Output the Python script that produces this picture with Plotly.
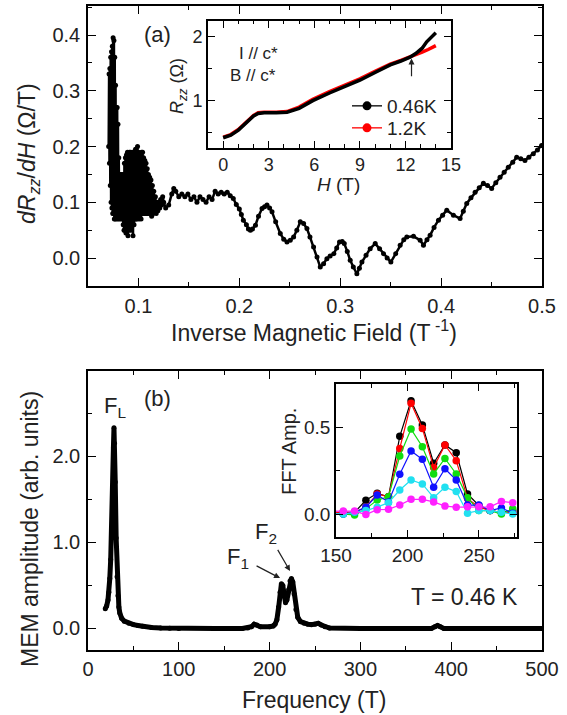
import plotly.graph_objects as go

FONT = "Liberation Sans, Arial, Helvetica, sans-serif"

# ---------------- panel (a): dRzz/dH versus inverse field ----------------
inv_field = [
    0.0705, 0.0709, 0.0713, 0.0717, 0.0721, 0.0725, 0.0729, 0.0733, 0.0737, 0.0741,
    0.0745, 0.0749, 0.0753, 0.0757, 0.0761, 0.0765, 0.0769, 0.0773, 0.0777, 0.0781,
    0.0785, 0.0789, 0.0793, 0.0797, 0.0801, 0.0805, 0.0809, 0.0813, 0.0817, 0.0821,
    0.0825, 0.0829, 0.0833, 0.0837, 0.0841, 0.0845, 0.0849, 0.0853, 0.0857, 0.0861,
    0.0866, 0.0871, 0.0876, 0.0881, 0.0886, 0.0891, 0.0896, 0.0901, 0.0906, 0.0911,
    0.0916, 0.0921, 0.0926, 0.0931, 0.0936, 0.0941, 0.0946, 0.0951, 0.0956, 0.0961,
    0.0966, 0.0971, 0.0976, 0.0981, 0.0986, 0.0991, 0.0996, 0.1001, 0.1006, 0.1011,
    0.1016, 0.1021, 0.1026, 0.1031, 0.1036, 0.1041, 0.1046, 0.1051, 0.1057, 0.1063,
    0.1069, 0.1075, 0.1081, 0.1087, 0.1093, 0.1099, 0.1105, 0.1111, 0.1117, 0.1124,
    0.1131, 0.1138, 0.1145, 0.1152, 0.1160, 0.1168, 0.1176, 0.1184, 0.1193, 0.1202,
    0.1211, 0.1220, 0.1230, 0.1240, 0.1250, 0.1270, 0.1300, 0.1330, 0.1350, 0.1370,
    0.1400, 0.1430, 0.1460, 0.1490, 0.1520, 0.1550, 0.1580, 0.1610, 0.1640, 0.1670,
    0.1700, 0.1730, 0.1760, 0.1790, 0.1820, 0.1850, 0.1880, 0.1910, 0.1940, 0.1970,
    0.2000, 0.2020, 0.2040, 0.2070, 0.2090, 0.2110, 0.2130, 0.2160, 0.2190, 0.2225,
    0.2250, 0.2274, 0.2300, 0.2324, 0.2360, 0.2406, 0.2440, 0.2472, 0.2505, 0.2538,
    0.2570, 0.2604, 0.2637, 0.2670, 0.2700, 0.2736, 0.2770, 0.2802, 0.2835, 0.2868,
    0.2900, 0.2937, 0.2965, 0.2993, 0.3020, 0.3040, 0.3070, 0.3099, 0.3130, 0.3165,
    0.3190, 0.3215, 0.3256, 0.3297, 0.3347, 0.3390, 0.3429, 0.3465, 0.3502, 0.3550,
    0.3594, 0.3630, 0.3660, 0.3726, 0.3792, 0.3825, 0.3860, 0.3891, 0.3930, 0.3974,
    0.4015, 0.4056, 0.4122, 0.4188, 0.4220, 0.4254, 0.4296, 0.4337, 0.4378, 0.4419,
    0.4460, 0.4501, 0.4542, 0.4584, 0.4625, 0.4666, 0.4710, 0.4749, 0.4790, 0.4831,
    0.4870, 0.4914, 0.4955, 0.4996,
]
dR_dH = [
    0.200, 0.330, 0.170, 0.340, 0.130, 0.360, 0.100, 0.370, 0.090, 0.380,
    0.080, 0.395, 0.080, 0.390, 0.070, 0.360, 0.070, 0.310, 0.080, 0.270,
    0.070, 0.270, 0.080, 0.240, 0.070, 0.180, 0.080, 0.150, 0.070, 0.150,
    0.080, 0.140, 0.070, 0.150, 0.080, 0.130, 0.060, 0.150, 0.050, 0.170,
    0.050, 0.180, 0.045, 0.185, 0.050, 0.190, 0.040, 0.185, 0.050, 0.190,
    0.060, 0.190, 0.050, 0.185, 0.060, 0.190, 0.040, 0.180, 0.060, 0.190,
    0.070, 0.195, 0.070, 0.190, 0.070, 0.200, 0.080, 0.190, 0.070, 0.180,
    0.080, 0.185, 0.070, 0.190, 0.080, 0.190, 0.080, 0.180, 0.080, 0.175,
    0.080, 0.170, 0.080, 0.160, 0.080, 0.150, 0.080, 0.145, 0.080, 0.140,
    0.075, 0.130, 0.080, 0.120, 0.085, 0.110, 0.080, 0.100, 0.085, 0.100,
    0.090, 0.105, 0.095, 0.110, 0.100, 0.090, 0.095, 0.115, 0.125, 0.120,
    0.110, 0.115, 0.110, 0.115, 0.105, 0.110, 0.100, 0.110, 0.105, 0.100,
    0.110, 0.105, 0.120, 0.115, 0.118, 0.115, 0.118, 0.112, 0.107, 0.096,
    0.088, 0.078, 0.068, 0.060, 0.052, 0.050, 0.052, 0.059, 0.075, 0.089,
    0.092, 0.095, 0.090, 0.083, 0.065, 0.044, 0.034, 0.029, 0.032, 0.038,
    0.050, 0.065, 0.062, 0.053, 0.038, 0.020, 0.002, -0.016, -0.010, -0.001,
    0.004, 0.008, 0.018, 0.029, 0.030, 0.026, 0.012, -0.004, -0.016, -0.028,
    -0.018, -0.007, 0.005, 0.017, 0.026, 0.017, 0.008, 0.000, -0.007, 0.008,
    0.023, 0.033, 0.038, 0.039, 0.032, 0.023, 0.033, 0.041, 0.055, 0.068,
    0.077, 0.086, 0.077, 0.071, 0.084, 0.098, 0.108, 0.118, 0.126, 0.134,
    0.130, 0.125, 0.135, 0.145, 0.154, 0.163, 0.172, 0.181, 0.178, 0.175,
    0.181, 0.187, 0.194, 0.202,
]

# inset (a): Rzz(H) at two temperatures
field_046K = [0, 0.5, 1.0, 1.5, 2.0, 2.3, 2.7, 3.5, 4.2, 5.0, 5.9, 7.0, 8.0, 9.0,
              10.0, 11.0, 11.7, 12.3, 12.7, 13.1, 13.4, 13.7, 14.0]
rzz_046K = [0.42, 0.46, 0.54, 0.65, 0.76, 0.80, 0.81, 0.81, 0.82, 0.88, 1.00, 1.12,
            1.22, 1.32, 1.44, 1.56, 1.62, 1.68, 1.74, 1.82, 1.92, 2.00, 2.06]
field_12K = [0, 0.5, 1.0, 1.5, 2.0, 2.3, 2.7, 3.5, 4.2, 5.0, 5.9, 7.0, 8.0, 9.0,
             10.0, 11.0, 11.7, 12.3, 12.7, 13.1, 13.5, 14.0]
rzz_12K = [0.43, 0.47, 0.55, 0.66, 0.77, 0.81, 0.82, 0.82, 0.83, 0.90, 1.02, 1.14,
           1.24, 1.34, 1.46, 1.57, 1.63, 1.68, 1.72, 1.76, 1.80, 1.86]

# ---------------- panel (b): MEM spectrum ----------------
freq = [19, 20.5, 22, 23, 24, 25, 26, 27, 28, 28.6, 29.2, 30, 31, 32, 33, 34, 35, 37,
        40, 45, 50, 55, 60, 70, 80, 90, 100, 140, 170, 176, 180, 183, 186, 190, 200,
        204, 206, 208, 210, 211.5, 213, 214.5, 216, 217.5, 219, 221, 222.5, 224,
        225.5, 227, 229, 231, 234, 238, 242, 246, 250, 253.5, 257, 261, 266, 300,
        360, 378, 382, 385, 388, 392, 420, 460, 500]
mem_amp = [0.23, 0.26, 0.33, 0.42, 0.58, 0.80, 1.10, 1.60, 2.10, 2.33, 2.15, 1.70,
           1.05, 0.60, 0.38, 0.25, 0.18, 0.12, 0.085, 0.06, 0.045, 0.035, 0.025,
           0.012, 0.006, 0.003, 0.0, 0.0, 0.0, 0.005, 0.02, 0.05, 0.04, 0.02, 0.02,
           0.03, 0.05, 0.10, 0.25, 0.42, 0.52, 0.50, 0.38, 0.30, 0.33, 0.45, 0.55,
           0.58, 0.54, 0.40, 0.22, 0.13, 0.08, 0.06, 0.05, 0.045, 0.05, 0.06, 0.04,
           0.02, 0.005, 0.0, 0.0, 0.0, 0.02, 0.035, 0.02, 0.0, 0.0, 0.0, 0.0]

# inset (b): FFT amplitude for several temperatures
fft_freq = [147.2, 155.1, 163.0, 170.9, 178.8, 186.7, 194.6, 202.5, 210.4, 218.3,
            226.2, 234.1, 242.0, 249.9, 257.8, 265.7, 273.6]
fft_black = [0.01, 0.01, 0.01, 0.08, 0.12, 0.10, 0.45, 0.656, 0.516, 0.294, 0.40,
             0.355, 0.116, 0.05, 0.02, 0.01, 0.02]
fft_red = [0.01, 0.01, 0.01, 0.04, 0.116, 0.10, 0.38, 0.641, 0.496, 0.27, 0.40,
           0.309, 0.09, 0.04, 0.02, 0.01, 0.01]
fft_green = [0.0, 0.0, -0.005, 0.03, 0.081, 0.10, 0.336, 0.492, 0.39, 0.232, 0.322,
             0.232, 0.094, 0.02, 0.02, 0.0, 0.03]
fft_blue = [0.0, 0.0, 0.01, 0.04, 0.11, 0.07, 0.23, 0.365, 0.317, 0.155, 0.262,
            0.197, 0.052, 0.052, 0.02, 0.035, 0.005]
fft_cyan = [0.0, 0.0, 0.01, 0.02, 0.04, 0.066, 0.139, 0.197, 0.174, 0.095, 0.155,
            0.13, 0.005, 0.02, 0.02, 0.01, 0.0]
fft_magenta = [0.017, 0.017, 0.017, -0.003, 0.025, 0.027, 0.052, 0.085, 0.085, 0.07,
               0.046, 0.04, 0.042, 0.042, 0.042, 0.073, 0.065]
fft_colors = ["#000000", "#ff0000", "#10dd10", "#1010ff", "#20e0f0", "#ff20ff"]
fft_series = [fft_black, fft_red, fft_green, fft_blue, fft_cyan, fft_magenta]

W, H = 567, 715


def px(x):
    return x / W


def py(y):
    return 1 - y / H


def axis(domain, anchor, size, dtick, minor_dtick, rng, fmt=None, standoff=0,
         ticklen=8):
    d = dict(
        domain=domain, anchor=anchor, range=rng, dtick=dtick, tick0=0,
        automargin=False, layer="above traces",
        showline=True, linecolor="black", linewidth=1.6, mirror="ticks",
        ticks="inside", ticklen=ticklen, tickwidth=1.4, tickcolor="black",
        showgrid=False, zeroline=False, ticklabelstandoff=standoff,
        tickfont=dict(family=FONT, size=size, color="#222"),
        minor=dict(ticks="inside", ticklen=ticklen * 0.55, tickwidth=1.4,
                   tickcolor="black", dtick=minor_dtick, showgrid=False),
    )
    if fmt:
        d["tickformat"] = fmt
    return d


fig = go.Figure()

# panel (a) main curve
fig.add_trace(go.Scatter(
    x=inv_field, y=dR_dH, xaxis="x", yaxis="y", mode="lines+markers",
    line=dict(color="black", width=2.5), marker=dict(color="black", size=5),
    showlegend=False))

# inset (a) curves (red underneath black)
fig.add_trace(go.Scatter(
    x=field_12K, y=rzz_12K, xaxis="x2", yaxis="y2", mode="lines",
    line=dict(color="#ff0000", width=3.5), showlegend=False))
fig.add_trace(go.Scatter(
    x=field_046K, y=rzz_046K, xaxis="x2", yaxis="y2", mode="lines",
    line=dict(color="black", width=3.5), showlegend=False))
# legend entries for the inset, one legend box per temperature
for name, col, lg in [("0.46K", "black", "legend"), ("1.2K", "#ff0000", "legend2")]:
    fig.add_trace(go.Scatter(
        x=[None], y=[None], xaxis="x2", yaxis="y2", mode="lines+markers",
        name=name, legend=lg, line=dict(color=col, width=1.3),
        marker=dict(color=col, size=9), showlegend=True))

# panel (b) MEM spectrum
fig.add_trace(go.Scatter(
    x=freq, y=mem_amp, xaxis="x3", yaxis="y3", mode="lines+markers",
    line=dict(color="black", width=5), marker=dict(color="black", size=5),
    showlegend=False))

# inset (b) FFT curves
for ys, col in zip(fft_series, fft_colors):
    fig.add_trace(go.Scatter(
        x=fft_freq, y=ys, xaxis="x4", yaxis="y4", mode="lines+markers",
        line=dict(color=col, width=1.2), marker=dict(color=col, size=7.5),
        showlegend=False))

ann = []


def text(x, y, s, size, angle=0):
    ann.append(dict(x=px(x), y=py(y), xref="paper", yref="paper", text=s,
                    showarrow=False, xanchor="center", yanchor="middle",
                    textangle=angle,
                    font=dict(family=FONT, size=size, color="#222")))


# axis titles
text(314, 331, "Inverse Magnetic Field (T<sup> -1</sup>)", 23)
text(28, 154, "<i>dR</i><sub><i>zz</i></sub>/<i>dH</i> (Ω/T)", 23, angle=-90)
text(314, 700, "Frequency (T)", 23)
text(30, 529, "MEM amplitude (arb. units)", 23, angle=-90)
text(178, 86, "<i>R</i><sub><i>zz</i></sub> (Ω)", 18, angle=-90)
text(338, 184, "<i>H</i> (T)", 19)
text(289, 452, "FFT Amp.", 20, angle=-90)

# panel labels and notes
text(157, 34, "(a)", 22)
text(157, 399, "(b)", 22)
text(258, 53, "I // c*", 17)
text(253, 75, "B // c*", 17)
text(464, 597, "T = 0.46 K", 23)
text(115, 407, "F<sub>L</sub>", 22)
text(238, 558, "F<sub>1</sub>", 22)
text(266, 533, "F<sub>2</sub>", 22)

# arrows
ann.append(dict(x=12.4, y=1.66, ax=12.4, ay=1.36, xref="x2", yref="y2",
                axref="x2", ayref="y2", showarrow=True, arrowhead=2,
                arrowsize=1, arrowwidth=1.2, arrowcolor="#222", text=""))
ann.append(dict(x=211.5, y=0.585, ax=184, ay=0.736, xref="x3", yref="y3",
                axref="x3", ayref="y3", showarrow=True, arrowhead=2,
                arrowsize=1, arrowwidth=1.2, arrowcolor="#222", text=""))
ann.append(dict(x=222.5, y=0.666, ax=208, ay=0.93, xref="x3", yref="y3",
                axref="x3", ayref="y3", showarrow=True, arrowhead=2,
                arrowsize=1, arrowwidth=1.2, arrowcolor="#222", text=""))

legend_style = dict(xanchor="left", yanchor="middle", bgcolor="rgba(0,0,0,0)",
                    font=dict(family=FONT, size=19, color="#222"))

fig.update_layout(
    width=W, height=H, margin=dict(l=0, r=0, t=0, b=0, autoexpand=False),
    paper_bgcolor="white", plot_bgcolor="rgba(0,0,0,0)",
    font=dict(family=FONT, color="#222"),
    showlegend=True,
    legend=dict(x=px(347), y=py(106), **legend_style),
    legend2=dict(x=px(347), y=py(128), **legend_style),
    xaxis=axis([px(88), px(542)], "y", 20, 0.1, 0.05, [0.05, 0.5], standoff=1),
    yaxis=axis([py(286), py(6)], "x", 20, 0.1, 0.05, [-0.05, 0.452], fmt=".1f",
               standoff=2),
    xaxis2=axis([px(208), px(451)], "y2", 18, 3, 1, [-1, 15], standoff=0, ticklen=7),
    yaxis2=axis([py(148), py(20.7)], "x2", 18, 1, 0.5, [0.26, 2.25], standoff=0,
                ticklen=7),
    xaxis3=axis([px(88), px(542)], "y3", 20, 100, 50, [0, 500], standoff=0),
    yaxis3=axis([py(650), py(371)], "x3", 20, 1, 0.5, [-0.25, 2.99], fmt=".1f",
                standoff=2),
    xaxis4=axis([px(336), px(517)], "y4", 19, 50, 25, [150, 276.6], standoff=0,
                ticklen=7),
    yaxis4=axis([py(537), py(384)], "x4", 19, 0.5, 0.25, [-0.133, 0.753], fmt=".1f",
                standoff=0, ticklen=7),
    annotations=ann,
)

fig.write_html("out.html")
